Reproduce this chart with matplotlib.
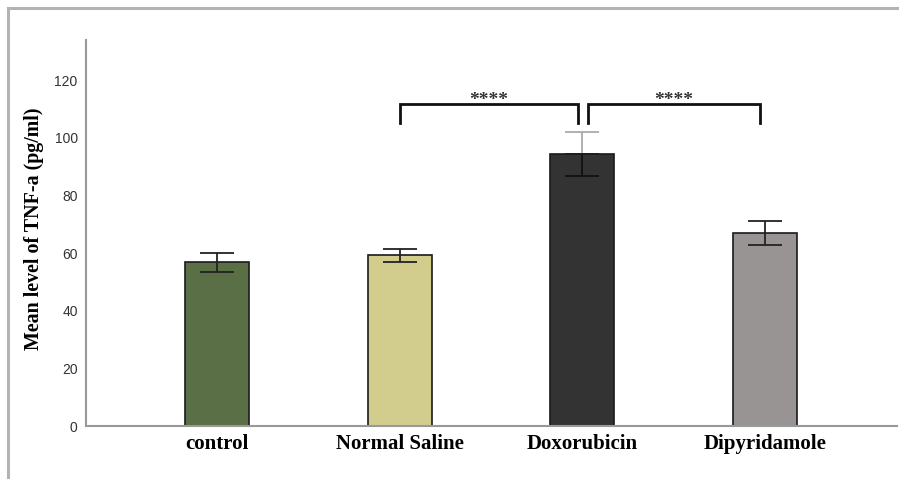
import numpy as np
import matplotlib.pyplot as plt
from matplotlib.lines import Line2D

groups = ["control", "Normal Saline", "Doxorubicin", "Dipyridamole"]
means = [56.9, 59.3, 94.4, 66.9]
errs = [3.3, 2.2, 7.6, 4.1]
colors = ["#5a6f46", "#d2cc8d", "#333333", "#999494"]

# significance brackets: (from, to, label)
brackets = [(1.0, 1.975, "****"), (2.03, 2.97, "****")]
bracket_top = 111.7
bracket_bottom = 105.1

fig = plt.figure(figsize=(8.99, 4.79), dpi=100)
ax = fig.add_axes([0.0957, 0.1106, 0.9023, 0.806])

x = np.arange(len(groups))
ax.bar(x, means, width=0.35, color=colors, edgecolor="#1a1a1a", linewidth=1.2, zorder=2)

for i in range(len(groups)):
    if groups[i] == "Doxorubicin":
        # upper half of the bar drawn lighter above the dark bar
        ax.errorbar(x[i], means[i], yerr=[[0], [errs[i]]], fmt="none", ecolor="#aaaaaa",
                    elinewidth=1.3, capsize=12, capthick=1.3, zorder=3)
        ax.errorbar(x[i], means[i], yerr=[[errs[i]], [0]], fmt="none", ecolor="#111111",
                    elinewidth=1.3, capsize=12, capthick=1.3, zorder=3)
    else:
        ax.errorbar(x[i], means[i], yerr=errs[i], fmt="none", ecolor="#222222",
                    elinewidth=1.3, capsize=12, capthick=1.3, zorder=3)

for x0, x1, lab in brackets:
    ax.plot([x0, x0, x1, x1], [bracket_bottom, bracket_top, bracket_top, bracket_bottom],
            color="#111111", linewidth=2, solid_joinstyle="miter", zorder=4)
    ax.text((x0 + x1) / 2, bracket_top - 1.5, lab, ha="center", va="bottom",
            fontsize=14, fontweight="bold", family="Liberation Serif", color="#333333")

ax.set_xlim(-0.717, 3.723)
ax.set_ylim(0, 134)
ax.set_yticks([0, 20, 40, 60, 80, 100, 120])
ax.set_xticks(x)
ax.set_xticklabels(groups, fontsize=15, fontweight="bold", family="Liberation Serif")
ax.tick_params(axis="y", length=0, pad=6, labelsize=10, labelcolor="#333333")
ax.tick_params(axis="x", length=0, pad=6)
for lab in ax.get_yticklabels():
    lab.set_family("Liberation Sans")

ax.set_ylabel("Mean level of TNF-a (pg/ml)", fontsize=14.4, fontweight="bold",
              family="Liberation Serif")
ax.yaxis.set_label_coords(-0.052, 0.51)

for side in ["top", "right"]:
    ax.spines[side].set_visible(False)
for side in ["left", "bottom"]:
    ax.spines[side].set_color("#999999")
    ax.spines[side].set_linewidth(1.5)

# outer frame along top and left edges
fig.add_artist(Line2D([0.009, 1.0], [0.983, 0.983], color="#b3b3b3", linewidth=2.2))
fig.add_artist(Line2D([0.009, 0.009], [0.0, 0.983], color="#b3b3b3", linewidth=2.2))

fig.savefig("out.png", dpi=100)
